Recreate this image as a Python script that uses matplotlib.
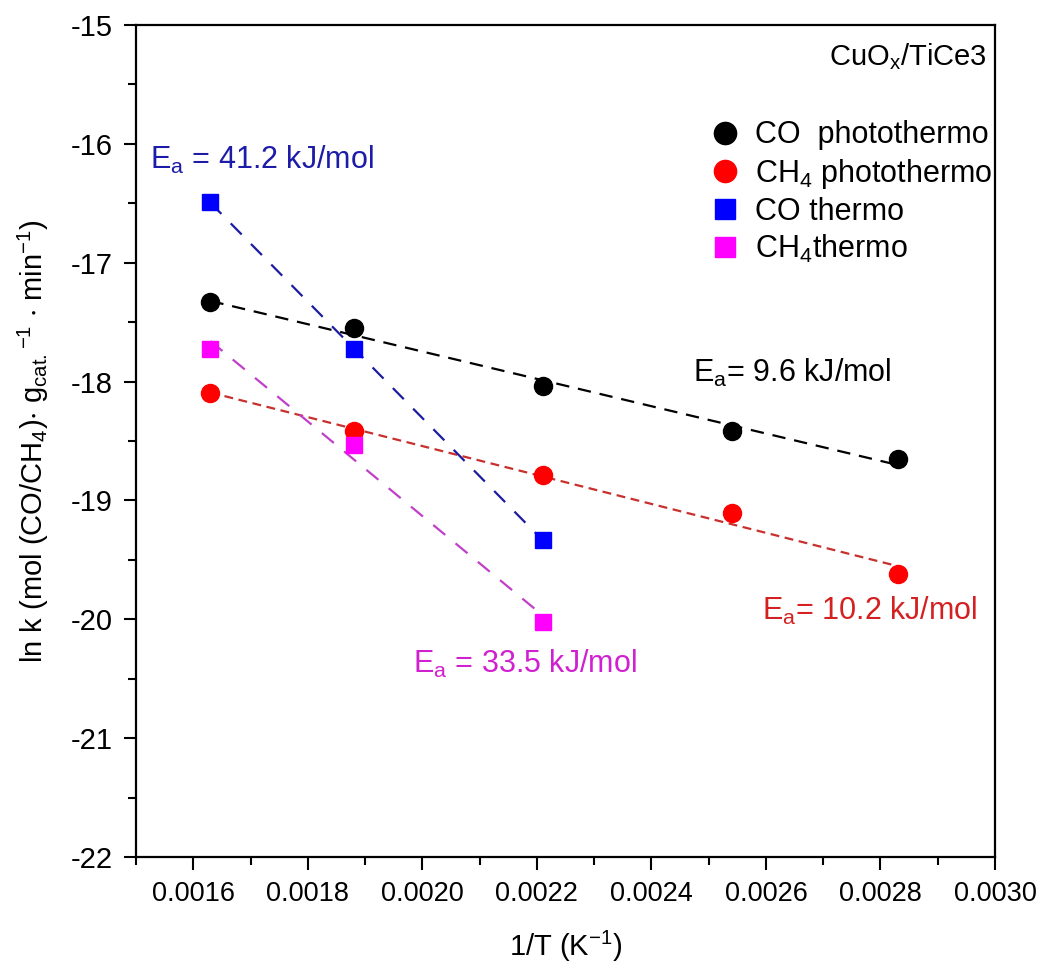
import numpy as np
import matplotlib
matplotlib.use("Agg")
import matplotlib.pyplot as plt
from matplotlib.lines import Line2D
from matplotlib.ticker import MultipleLocator, FormatStrFormatter

plt.rcParams['font.family'] = ['Liberation Sans', 'DejaVu Sans']
plt.rcParams['mathtext.fontset'] = 'custom'
plt.rcParams['mathtext.rm'] = 'Liberation Sans'
plt.rcParams['mathtext.it'] = 'Liberation Sans'
plt.rcParams['mathtext.default'] = 'regular'

# ---- data ----
x_photo = [0.00163, 0.00188, 0.00221, 0.00254, 0.00283]
co_photo = [-17.33, -17.55, -18.04, -18.42, -18.65]
ch4_photo = [-18.10, -18.42, -18.79, -19.11, -19.62]

x_thermo = [0.00163, 0.00188, 0.00221]
co_thermo = [-16.49, -17.73, -19.33]
ch4_thermo = [-17.73, -18.53, -20.02]

labels = ["CO  photothermo", "CH$_4$ photothermo", "CO thermo", "CH$_4$thermo"]
ea_texts = ["E$_a$ = 41.2 kJ/mol", "E$_a$= 9.6 kJ/mol", "E$_a$= 10.2 kJ/mol", "E$_a$ = 33.5 kJ/mol"]
xticks = [0.0016, 0.0018, 0.0020, 0.0022, 0.0024, 0.0026, 0.0028, 0.0030]
yticks = [-15, -16, -17, -18, -19, -20, -21, -22]

fig = plt.figure(figsize=(10.43, 9.69), dpi=100)
ax = fig.add_axes([0.1304, 0.1156, 0.8236, 0.8586])

def fit_line(x, y, color, dashes):
    x = np.asarray(x); y = np.asarray(y)
    p = np.polyfit(x, y, 1)
    xx = np.array([x.min(), x.max()])
    ax.plot(xx, np.polyval(p, xx), color=color, lw=1.6, dashes=dashes, zorder=2)

fit_line(x_photo, co_photo, 'black', (6, 4))
fit_line(x_photo, ch4_photo, '#C8302E', (4, 2.5))
fit_line(x_thermo, co_thermo, '#1C1CA0', (7, 6))
fit_line(x_thermo, ch4_thermo, '#C040C8', (7, 6))

ax.plot(x_photo, co_photo, 'o', color='black', ms=13, ls='none', zorder=3)
ax.plot(x_photo, ch4_photo, 'o', color='#FF0000', ms=13, ls='none', zorder=3)
ax.plot(x_thermo, co_thermo, 's', color='#0000FF', ms=11.5, ls='none', zorder=3)
ax.plot(x_thermo, ch4_thermo, 's', color='#FF00FF', ms=11.5, ls='none', zorder=3)

ax.set_xlim(0.0015, 0.0030)
ax.set_ylim(-22, -15)
ax.set_xticks(xticks)
ax.set_yticks(yticks)
ax.xaxis.set_major_formatter(FormatStrFormatter('%.4f'))
ax.yaxis.set_major_formatter(FormatStrFormatter('%d'))
ax.xaxis.set_minor_locator(MultipleLocator(0.0001))
ax.yaxis.set_minor_locator(MultipleLocator(0.5))
ax.tick_params(which='major', direction='out', length=9, width=1.5, pad=8)
ax.tick_params(axis='x', which='major', labelsize=19.5)
ax.tick_params(axis='y', which='major', labelsize=21)
ax.tick_params(which='minor', direction='out', length=6, width=1.5)
ax.tick_params(top=False, right=False, which='both')
for s in ax.spines.values():
    s.set_linewidth(1.6)

ax.set_xlabel("1/T (K$^{-1}$)", fontsize=21, labelpad=16)
ax.set_ylabel("ln k (mol (CO/CH$_4$)$\\cdot$ g$_{cat.}$$^{-1}$ $\\cdot$ min$^{-1}$)", fontsize=21, labelpad=14)

handles = [
    Line2D([], [], marker='o', ls='none', color='black', ms=16),
    Line2D([], [], marker='o', ls='none', color='#FF0000', ms=16),
    Line2D([], [], marker='s', ls='none', color='#0000FF', ms=14),
    Line2D([], [], marker='s', ls='none', color='#FF00FF', ms=14),
]
ax.legend(handles, labels, loc='upper left', bbox_to_anchor=(0.650, 0.900), frameon=False,
          fontsize=22, handletextpad=0.4, labelspacing=0.2, borderaxespad=0, handlelength=1.2)

ax.text(0.990, 0.980, "CuO$_x$/TiCe3", transform=ax.transAxes, ha='right', va='top', fontsize=21)
ax.text(0.016, 0.838, ea_texts[0], transform=ax.transAxes, ha='left', va='center', fontsize=22, color='#1C1CA8')
ax.text(0.648, 0.582, ea_texts[1], transform=ax.transAxes, ha='left', va='center', fontsize=22, color='black')
ax.text(0.729, 0.296, ea_texts[2], transform=ax.transAxes, ha='left', va='center', fontsize=22, color='#D42020')
ax.text(0.322, 0.232, ea_texts[3], transform=ax.transAxes, ha='left', va='center', fontsize=22, color='#D020D0')

fig.savefig("out.png", dpi=100)
